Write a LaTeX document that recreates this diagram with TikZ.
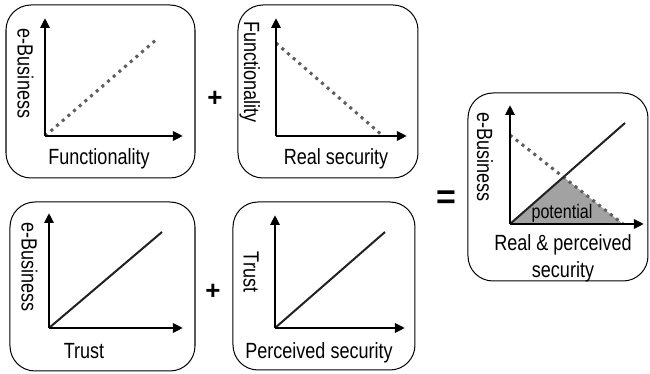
\documentclass[tikz,border=0pt]{standalone}
\usepackage{fontspec}
\setmainfont{Liberation Sans}[FakeStretch=0.82]
\newfontfamily\opfont{Liberation Sans}
\usepackage{xcolor}
\usepackage{tikz}
\usetikzlibrary{arrows.meta}

\definecolor{dotgray}{HTML}{5E5E5E}
\definecolor{areagray}{HTML}{A2A2A2}

\begin{document}
\begin{tikzpicture}[x=0.5pt,y=-0.5pt,
  panel/.style={draw=black,line width=0.5pt,rounded corners=12.5pt},
  ax/.style={-{Triangle[length=5pt,width=4.5pt]},line width=1.25pt},
  rising/.style={line width=1pt,black!87},
  falling/.style={line width=1.5pt,dotgray,dash pattern=on 1.5pt off 2.25pt},
  lbl/.style={font=\fontsize{11}{13.5}\selectfont,inner sep=0pt},
  vlbl/.style={lbl,rotate=-90},
  op/.style={font=\opfont\fontsize{13}{13}\bfseries\selectfont,inner sep=0pt}]
  \useasboundingbox (0,0) rectangle (650,374);

  % panels
  \draw[panel] (6,5) rectangle (195,178);
  \draw[panel] (238,5) rectangle (418,178);
  \draw[panel] (10,202) rectangle (195,371);
  \draw[panel] (233,202) rectangle (415,370);
  \draw[panel] (468,93) rectangle (648,281);

  % functionality -> e-business
  \coordinate (o1) at (45,136);
  \coordinate (y1) at (45,18);
  \coordinate (x1) at (183,136);
  \coordinate (e1) at (157,39);
  \draw[falling] (o1) -- (e1);
  \draw[ax] (o1) -- (y1);
  \draw[ax] (o1) -- (x1);
  \node[vlbl] (f1v) at (25.5,73.5) {e-Business};
  \node[lbl,anchor=base] (f1h) at (99,165) {Functionality};

  % real security -> functionality
  \coordinate (o2) at (276,136);
  \coordinate (y2) at (276,18);
  \coordinate (x2) at (407,136);
  \coordinate (s2) at (276,43);
  \coordinate (e2) at (383,136);
  \draw[falling] (s2) -- (e2);
  \draw[ax] (o2) -- (y2);
  \draw[ax] (o2) -- (x2);
  \node[vlbl,anchor=base] (f2v) at (244,72) {Functionality};
  \node[lbl,anchor=base] (f2h) at (336,165) {Real security};

  % trust -> e-business
  \coordinate (o3) at (49,328);
  \coordinate (y3) at (49,213);
  \coordinate (x3) at (183,328);
  \coordinate (e3) at (162,232);
  \draw[rising] (o3) -- (e3);
  \draw[ax] (o3) -- (y3);
  \draw[ax] (o3) -- (x3);
  \node[vlbl] (f3v) at (29.5,267) {e-Business};
  \node[lbl,anchor=base] (f3h) at (84,359) {Trust};

  % perceived security -> trust
  \coordinate (o4) at (275,328);
  \coordinate (y4) at (275,215);
  \coordinate (x4) at (405,328);
  \coordinate (e4) at (385,232);
  \draw[rising] (o4) -- (e4);
  \draw[ax] (o4) -- (y4);
  \draw[ax] (o4) -- (x4);
  \node[vlbl] (f4v) at (251,272) {Trust};
  \node[lbl,anchor=base] (f4h) at (319,359) {Perceived security};

  % result
  \coordinate (o5) at (510,224);
  \coordinate (y5) at (510,105);
  \coordinate (x5) at (644,224);
  \coordinate (e5) at (625,123);
  \coordinate (s5) at (510,135);
  \coordinate (d5) at (623,224);
  \coordinate (cross) at (intersection of o5--e5 and s5--d5);
  \fill[areagray] (o5) -- (cross) -- (d5) -- cycle;
  \draw[falling] (s5) -- (d5);
  \draw[rising] (o5) -- (e5);
  \draw[ax] (o5) -- (y5);
  \draw[ax] (o5) -- (x5);
  \node[vlbl] (f5v) at (485,157) {e-Business};
  \node[lbl,font=\fontsize{9.8}{10}\selectfont,anchor=base] (pot) at (562,219) {potential};
  \node[lbl,align=center,anchor=base] (f5h) at (563,278) {Real \& perceived\\security};

  % operators
  \node[op] (plus1) at (215,99) {+};
  \node[op] (plus2) at (213,292) {+};
  \node[op,font=\opfont\fontsize{17}{17}\bfseries\selectfont] (eq) at (446,200) {=};
\end{tikzpicture}
\end{document}
